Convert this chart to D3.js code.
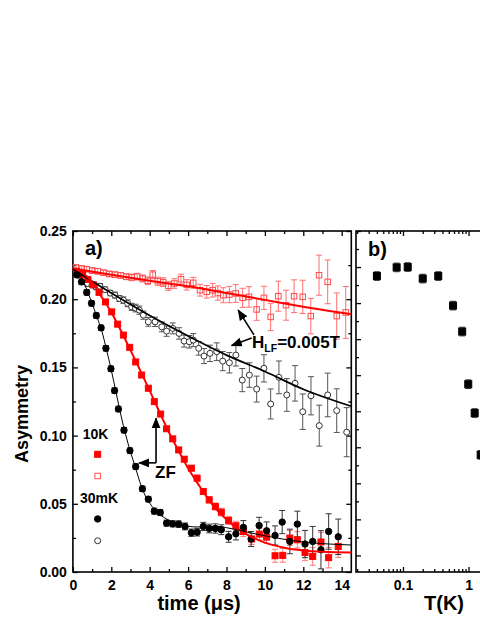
<!DOCTYPE html>
<html>
<head>
<meta charset="utf-8">
<script src="https://cdn.jsdelivr.net/npm/d3@7"></script>
<style>
  body { margin: 0; background: #fff; }
  svg { display: block; font-family: "Liberation Sans", Arial, sans-serif; font-weight: bold; }
</style>
</head>
<body>
<svg width="480" height="621"></svg>
<script>
// ---- panel a) data: [time (us), asymmetry, error] ----
var zf30mK = [[0.2,0.218,0.002],[0.45,0.2127,0.002],[0.72,0.205,0.002],[0.97,0.197,0.002],[1.22,0.188,0.002],[1.47,0.179,0.002],[1.72,0.164,0.002],[1.98,0.149,0.002],[2.17,0.133,0.002],[2.37,0.1195,0.002],[2.66,0.104,0.002],[2.97,0.089,0.002],[3.27,0.0773,0.002],[3.62,0.061,0.002],[3.93,0.0534,0.002],[4.24,0.0446,0.0022],[4.55,0.0436,0.0022],[4.88,0.0358,0.0022],[5.2,0.0353,0.0022],[5.51,0.0351,0.0024],[5.84,0.0334,0.0025],[6.17,0.0288,0.0027],[6.47,0.0292,0.0028],[6.79,0.0334,0.003],[7.1,0.0319,0.0032],[7.42,0.0319,0.0034],[7.73,0.031,0.0036],[8.11,0.0258,0.004],[8.49,0.028,0.0045],[8.88,0.0327,0.005],[9.28,0.0242,0.0055],[9.7,0.0341,0.006],[10.09,0.0302,0.0065],[10.53,0.0268,0.007],[10.9,0.0366,0.0085],[11.3,0.0224,0.009],[11.69,0.0351,0.0095],[12.09,0.0205,0.01],[12.49,0.0224,0.011],[12.92,0.0163,0.014],[13.32,0.0297,0.013],[13.82,0.0258,0.013]];

var zf10K = [[0.2,0.2205,0.0015],[0.5,0.218,0.0015],[0.78,0.2145,0.0015],[1.07,0.2105,0.0015],[1.36,0.205,0.0015],[1.7,0.198,0.0015],[2.02,0.1907,0.0015],[2.33,0.1817,0.0015],[2.63,0.1737,0.0015],[2.96,0.1647,0.0015],[3.27,0.154,0.0015],[3.58,0.1444,0.0015],[3.93,0.1347,0.0015],[4.24,0.1249,0.0015],[4.57,0.1158,0.0015],[4.88,0.105,0.0016],[5.2,0.0976,0.0017],[5.51,0.0895,0.0018],[5.8,0.0827,0.0019],[6.17,0.0761,0.002],[6.47,0.0688,0.0021],[6.79,0.059,0.0022],[7.1,0.0529,0.0024],[7.42,0.048,0.0026],[7.73,0.0439,0.0028],[8.11,0.0378,0.003],[8.49,0.0339,0.0033],[8.88,0.0297,0.0036],[9.31,0.0242,0.004],[9.71,0.0278,0.0042],[10.09,0.0256,0.0045],[10.53,0.0119,0.0048],[10.93,0.0122,0.005],[11.3,0.0249,0.0055],[11.69,0.0236,0.006],[12.09,0.0143,0.006],[12.49,0.0114,0.0065],[12.92,0.022,0.007],[13.32,0.0105,0.0075],[13.82,0.0187,0.008]];

var lf10K = [[0.16,0.2232,0.002],[0.46,0.2225,0.002],[0.72,0.222,0.002],[1.0,0.221,0.002],[1.29,0.2205,0.002],[1.59,0.2195,0.002],[1.9,0.2185,0.002],[2.19,0.218,0.002],[2.49,0.2174,0.0022],[2.78,0.2165,0.0022],[3.06,0.216,0.0024],[3.35,0.2165,0.0025],[3.63,0.2152,0.0026],[3.9,0.2135,0.0028],[4.16,0.218,0.003],[4.42,0.2132,0.003],[4.7,0.2125,0.0032],[4.97,0.2098,0.0033],[5.28,0.2115,0.0035],[5.63,0.2147,0.0036],[5.93,0.2105,0.0038],[6.27,0.212,0.004],[6.62,0.2066,0.0043],[6.97,0.2054,0.0046],[7.28,0.2066,0.005],[7.55,0.2045,0.0052],[7.83,0.2029,0.0055],[8.15,0.2034,0.006],[8.48,0.2042,0.0065],[8.84,0.201,0.007],[9.17,0.2017,0.0075],[9.57,0.1925,0.008],[9.95,0.201,0.0085],[10.3,0.187,0.01],[10.7,0.2022,0.011],[11.1,0.1956,0.011],[11.52,0.2022,0.012],[11.97,0.2017,0.0122],[12.39,0.1876,0.013],[12.82,0.2176,0.0147],[13.27,0.2127,0.016],[13.74,0.1876,0.017],[14.21,0.1903,0.019]];

var lf30mK = [[0.28,0.2176,0.002],[0.52,0.214,0.002],[0.75,0.2115,0.002],[1.0,0.2105,0.002],[1.2,0.209,0.002],[1.41,0.2095,0.002],[1.68,0.207,0.002],[1.95,0.2045,0.002],[2.19,0.203,0.0022],[2.42,0.2005,0.0022],[2.63,0.1993,0.0024],[2.85,0.197,0.0025],[3.06,0.1944,0.0026],[3.26,0.1935,0.0028],[3.46,0.192,0.003],[3.67,0.1883,0.003],[3.93,0.1834,0.0032],[4.28,0.1834,0.0034],[4.63,0.1797,0.0036],[4.88,0.1766,0.0038],[5.2,0.1786,0.004],[5.53,0.1749,0.0042],[5.79,0.1693,0.0044],[6.06,0.1688,0.0046],[6.27,0.17,0.0048],[6.55,0.164,0.005],[6.83,0.1583,0.0055],[7.14,0.1603,0.006],[7.49,0.1615,0.0065],[7.8,0.1546,0.007],[8.15,0.1534,0.0075],[8.49,0.159,0.008],[8.82,0.1407,0.0085],[9.19,0.1444,0.009],[9.57,0.1341,0.0095],[9.95,0.1493,0.01],[10.3,0.1232,0.011],[10.73,0.1427,0.012],[11.14,0.1298,0.012],[11.57,0.1383,0.013],[11.97,0.1175,0.013],[12.4,0.1292,0.014],[12.83,0.1073,0.015],[13.27,0.1298,0.016],[13.74,0.1183,0.016],[14.26,0.1025,0.018]];

// fit curves: [time, asymmetry]
var fitZF30mK = [[0,0.222],[0.25,0.2195],[0.5,0.2145],[0.75,0.206],[1,0.197],[1.25,0.187],[1.5,0.177],[1.75,0.163],[2,0.148],[2.25,0.1315],[2.5,0.115],[2.75,0.1005],[3,0.088],[3.25,0.077],[3.5,0.0655],[3.75,0.0565],[4,0.0505],[4.5,0.0425],[5,0.038],[5.5,0.0355],[6,0.0335],[6.5,0.033],[7,0.0335],[7.5,0.0335],[8,0.0325],[9,0.0295],[10,0.0265],[11,0.024],[12,0.022],[13,0.0208],[14.5,0.0198]];
var fitZF10K = [[0,0.223],[0.5,0.2195],[1,0.2125],[1.5,0.2015],[2,0.1905],[2.5,0.177],[3,0.1625],[3.5,0.148],[4,0.133],[4.5,0.1175],[5,0.1025],[5.5,0.089],[6,0.076],[6.5,0.065],[7,0.0545],[7.5,0.0455],[8,0.0385],[8.5,0.0325],[9,0.028],[9.5,0.0245],[10,0.0215],[11,0.0178],[12,0.0158],[13,0.0148],[14.5,0.0143]];
var fitLF10K = [[0,0.2225],[2,0.218],[4,0.2135],[6,0.2095],[8,0.2045],[10,0.1995],[12,0.1945],[14.5,0.189]];
var fitLF30mK = [[0,0.222],[2,0.2045],[4,0.188],[6,0.173],[8,0.159],[10,0.147],[12,0.134],[14.5,0.1215]];

var timeTicks = [0,2,4,6,8,10,12,14];
var asymTicks = [0,0.05,0.10,0.15,0.20,0.25];

// ---- panel b) data ----
var tempK = [0.04,0.08,0.118,0.2,0.345,0.58,0.8,0.99,1.24,1.53];
var tempVal = [0.775,0.799,0.8,0.768,0.775,0.693,0.621,0.475,0.395,0.279];
var tempErr = [0.012,0.012,0.012,0.012,0.012,0.012,0.012,0.012,0.012,0.012];
var tempTickLabels = [0.1, 1];

var svg = d3.select('svg');
var red = '#ff0000', black = '#000';

var x = d3.scaleLinear().domain([0, 14.5]).range([72.9, 351.3]);
var y = d3.scaleLinear().domain([0, 0.25]).range([572, 231]);

var xb = d3.scaleLog().domain([0.0192, 12.3]).range([356, 540]);
var yb = d3.scaleLinear().domain([-0.046, 0.9]).range([572, 231]);

// arrow head
svg.append('defs').append('marker')
  .attr('id', 'head').attr('viewBox', '0 0 10 10').attr('refX', 9).attr('refY', 5)
  .attr('markerWidth', 7).attr('markerHeight', 7).attr('orient', 'auto-start-reverse')
  .append('path').attr('d', 'M0,1 L10,5 L0,9 z').attr('fill', '#000');

const styleAxis = (sel) => {
  sel.select('.domain').remove();
  sel.selectAll('.tick line').attr('stroke', '#000').attr('stroke-width', 1.3);
  sel.selectAll('.tick text').attr('fill', '#000').attr('font-size', 14).attr('font-family', null);
}

const minorOf = (major, step) => {
  let out = [];
  for (let i = 0; i < major.length - 1; i++) out.push((major[i] + major[i+1]) / 2);
  return out;
}

// ---- panel a axes ----
var ga = svg.append('g');
var tMinor = minorOf(timeTicks.concat([16]));
var aMinor = minorOf(asymTicks);

ga.append('g').attr('transform', `translate(0,${y(0)})`)
  .call(d3.axisBottom(x).tickValues(timeTicks).tickSize(-5).tickSizeOuter(0).tickPadding(8).tickFormat(d3.format('d')))
  .call(styleAxis);
ga.append('g').attr('transform', `translate(0,${y(0)})`)
  .call(d3.axisBottom(x).tickValues(tMinor.filter(d => d < 14.5)).tickSize(-3).tickFormat(''))
  .call(styleAxis);
ga.append('g').attr('transform', `translate(0,${y(0.25)})`)
  .call(d3.axisTop(x).tickValues(timeTicks).tickSize(-5).tickFormat(''))
  .call(styleAxis);
ga.append('g').attr('transform', `translate(0,${y(0.25)})`)
  .call(d3.axisTop(x).tickValues(tMinor.filter(d => d < 14.5)).tickSize(-3).tickFormat(''))
  .call(styleAxis);
ga.append('g').attr('transform', `translate(${x(0)},0)`)
  .call(d3.axisLeft(y).tickValues(asymTicks).tickSize(-5).tickPadding(6).tickFormat(d3.format('.2f')))
  .call(styleAxis);
ga.append('g').attr('transform', `translate(${x(0)},0)`)
  .call(d3.axisLeft(y).tickValues(aMinor).tickSize(-3).tickFormat(''))
  .call(styleAxis);
ga.append('g').attr('transform', `translate(${x(14.5)},0)`)
  .call(d3.axisRight(y).tickValues(asymTicks).tickSize(-5).tickFormat(''))
  .call(styleAxis);
ga.append('g').attr('transform', `translate(${x(14.5)},0)`)
  .call(d3.axisRight(y).tickValues(aMinor).tickSize(-3).tickFormat(''))
  .call(styleAxis);
// hide the 0 tick line at the left edge overlapping, fine
ga.append('rect')
  .attr('x', x(0)).attr('y', y(0.25)).attr('width', x(14.5) - x(0)).attr('height', y(0) - y(0.25))
  .attr('fill', 'none').attr('stroke', '#000').attr('stroke-width', 1.6);

// ---- panel b axes ----
var gb = svg.append('g');
var bMajor = [0.1, 1, 10];
var bMinor = [];
[0.01, 0.1, 1].forEach(dec => { for (let k = 2; k <= 9; k++) bMinor.push(dec * k); });
bMinor = bMinor.filter(d => d > 0.0192);
var bYMajor = d3.range(0, 10).map(d => d / 10);
var bYMinor = d3.range(0, 10).map(d => d / 10 - 0.05).filter(d => d > -0.046);

gb.append('g').attr('transform', `translate(0,${yb.range()[0]})`)
  .call(d3.axisBottom(xb).tickValues(bMajor).tickSize(-5).tickPadding(8).tickFormat(d => tempTickLabels.includes(d) ? String(d) : ''))
  .call(styleAxis);
gb.append('g').attr('transform', `translate(0,${yb.range()[0]})`)
  .call(d3.axisBottom(xb).tickValues(bMinor).tickSize(-3).tickFormat(''))
  .call(styleAxis);
gb.append('g').attr('transform', `translate(0,${yb.range()[1]})`)
  .call(d3.axisTop(xb).tickValues(bMajor).tickSize(-5).tickFormat(''))
  .call(styleAxis);
gb.append('g').attr('transform', `translate(0,${yb.range()[1]})`)
  .call(d3.axisTop(xb).tickValues(bMinor).tickSize(-3).tickFormat(''))
  .call(styleAxis);
gb.append('g').attr('transform', `translate(${xb.range()[0]},0)`)
  .call(d3.axisLeft(yb).tickValues(bYMajor).tickSize(-5).tickFormat(''))
  .call(styleAxis);
gb.append('g').attr('transform', `translate(${xb.range()[0]},0)`)
  .call(d3.axisLeft(yb).tickValues(bYMinor).tickSize(-3).tickFormat(''))
  .call(styleAxis);
gb.append('rect')
  .attr('x', xb.range()[0]).attr('y', yb.range()[1]).attr('width', xb.range()[1] - xb.range()[0]).attr('height', yb.range()[0] - yb.range()[1])
  .attr('fill', 'none').attr('stroke', '#000').attr('stroke-width', 1.6);

// ---- drawing helpers ----
const errorBars = (g, data, xs, ys, color, cap) => {
  var eb = g.append('g').attr('stroke', color).attr('stroke-width', 1);
  data.forEach(d => {
    eb.append('line').attr('x1', xs(d[0])).attr('x2', xs(d[0])).attr('y1', ys(d[1] - d[2])).attr('y2', ys(d[1] + d[2]));
    eb.append('line').attr('x1', xs(d[0]) - cap).attr('x2', xs(d[0]) + cap).attr('y1', ys(d[1] - d[2])).attr('y2', ys(d[1] - d[2]));
    eb.append('line').attr('x1', xs(d[0]) - cap).attr('x2', xs(d[0]) + cap).attr('y1', ys(d[1] + d[2])).attr('y2', ys(d[1] + d[2]));
  });
}

const squares = (g, data, xs, ys, size, fill, stroke) => {
  g.append('g').selectAll('rect').data(data).join('rect')
    .attr('x', d => xs(d[0]) - size / 2).attr('y', d => ys(d[1]) - size / 2)
    .attr('width', size).attr('height', size)
    .attr('fill', fill).attr('stroke', stroke).attr('stroke-width', 1);
}

const circles = (g, data, xs, ys, r, fill, stroke) => {
  g.append('g').selectAll('circle').data(data).join('circle')
    .attr('cx', d => xs(d[0])).attr('cy', d => ys(d[1])).attr('r', r)
    .attr('fill', fill).attr('stroke', stroke).attr('stroke-width', 1);
}

var line = d3.line().x(d => x(d[0])).y(d => y(d[1])).curve(d3.curveMonotoneX);

// ---- panel a data ----
var gd = svg.append('g');
errorBars(gd, lf10K, x, y, '#ff6f6f', 3);
squares(gd, lf10K, x, y, 5.5, 'none', '#ff4a4a');
errorBars(gd, lf30mK, x, y, '#555', 3);
circles(gd, lf30mK, x, y, 3, '#fff', '#333');
errorBars(gd, zf10K, x, y, '#ff7a7a', 3);
errorBars(gd, zf30mK, x, y, '#333', 3);
squares(gd, zf10K, x, y, 6, red, red);
circles(gd, zf30mK, x, y, 3.2, black, black);

gd.append('path').datum(fitLF10K).attr('fill', 'none').attr('stroke', red).attr('stroke-width', 2).attr('d', line);
gd.append('path').datum(fitLF30mK).attr('fill', 'none').attr('stroke', black).attr('stroke-width', 1.8).attr('d', line);
gd.append('path').datum(fitZF10K).attr('fill', 'none').attr('stroke', red).attr('stroke-width', 2).attr('d', line);
gd.append('path').datum(fitZF30mK).attr('fill', 'none').attr('stroke', black).attr('stroke-width', 1).attr('d', line);

// ---- legend (positions in data units) ----
var legendText = [['10K', 0.51, 0.0975], ['30mK', 0.37, 0.0504]];
var legendSym = [[1.29, 0.0863, 'sq-fill'], [1.29, 0.0704, 'sq-open'], [1.29, 0.0389, 'ci-fill'], [1.29, 0.0229, 'ci-open']];
var gl = svg.append('g');
gl.selectAll('text').data(legendText).join('text')
  .attr('x', d => x(d[1])).attr('y', d => y(d[2])).attr('font-size', 14).text(d => d[0]);
squares(gl, legendSym.filter(d => d[2] == 'sq-fill'), x, y, 6, red, red);
squares(gl, legendSym.filter(d => d[2] == 'sq-open'), x, y, 5.5, 'none', '#ff4a4a');
circles(gl, legendSym.filter(d => d[2] == 'ci-fill'), x, y, 3.2, black, black);
circles(gl, legendSym.filter(d => d[2] == 'ci-open'), x, y, 3, '#fff', '#333');

// ---- annotations ----
var arrows = [[9.43, 0.1738, 8.61, 0.1920], [9.31, 0.1715, 8.27, 0.1660], [4.33, 0.0800, 4.33, 0.1127], [4.33, 0.0800, 3.45, 0.0800]];
svg.append('g').selectAll('line').data(arrows).join('line')
  .attr('x1', d => x(d[0])).attr('y1', d => y(d[1])).attr('x2', d => x(d[2])).attr('y2', d => y(d[3]))
  .attr('stroke', '#000').attr('stroke-width', 1.6).attr('marker-end', 'url(#head)');

var hlf = svg.append('text').attr('x', x(9.33)).attr('y', y(0.164)).attr('font-size', 17);
hlf.append('tspan').text('H');
hlf.append('tspan').attr('font-size', 10.5).attr('dy', 4).text('LF');
hlf.append('tspan').attr('dy', -4).text('=0.005T');

svg.append('text').attr('x', x(4.28)).attr('y', y(0.0687)).attr('font-size', 17).text('ZF');

// ---- panel b data ----
var bData = tempK.map((t, i) => [t, tempVal[i], tempErr[i]]);
errorBars(gb, bData, xb, yb, '#333', 3);
squares(gb, bData, xb, yb, 7, black, black);

// ---- labels ----
svg.append('text').attr('x', x(0) + 12).attr('y', 255).attr('font-size', 20).text('a)');
svg.append('text').attr('x', xb.range()[0] + 12).attr('y', 256).attr('font-size', 20).text('b)');
svg.append('text').attr('x', (x(0) + x(14.5)) / 2 - 13).attr('y', 610).attr('font-size', 20)
  .attr('text-anchor', 'middle').text('time (\u03bcs)');
svg.append('text').attr('x', 444).attr('y', 610).attr('font-size', 20)
  .attr('text-anchor', 'middle').text('T(K)');
svg.append('text').attr('transform', 'translate(28,414) rotate(-90)').attr('font-size', 18)
  .attr('text-anchor', 'middle').text('Asymmetry');
</script>
</body>
</html>
